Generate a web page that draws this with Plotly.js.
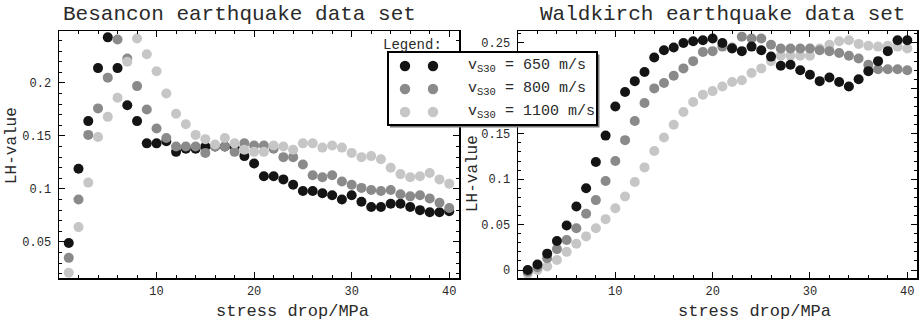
<!DOCTYPE html>
<html><head><meta charset="utf-8">
<script src="https://cdn.plot.ly/plotly-3.0.1.min.js"></script>
<style>html,body{margin:0;padding:0;background:#fff}</style>
</head><body>
<div id="chart" style="width:921px;height:323px"></div>
<script>
// ---- data ----
const stressDrop = [1,2,3,4,5,6,7,8,9,10,11,12,13,14,15,16,17,18,19,20,21,22,23,24,25,26,27,28,29,30,31,32,33,34,35,36,37,38,39,40];

const besancon650  = [0.049,0.119,0.164,0.214,0.243,0.214,0.179,0.164,0.143,0.143,0.145,0.135,0.138,0.138,0.140,0.140,0.140,0.139,0.131,0.124,0.112,0.112,0.109,0.104,0.098,0.098,0.096,0.094,0.090,0.094,0.088,0.083,0.083,0.086,0.086,0.083,0.080,0.078,0.078,0.079];
const besancon800  = [0.035,0.090,0.151,0.176,0.205,0.241,0.223,0.197,0.175,0.157,0.148,0.140,0.140,0.140,0.134,0.140,0.140,0.135,0.143,0.141,0.141,0.138,0.130,0.130,0.123,0.113,0.111,0.113,0.107,0.104,0.101,0.099,0.098,0.099,0.095,0.093,0.094,0.091,0.087,0.082];
const besancon1100 = [0.021,0.064,0.106,0.149,0.168,0.186,0.220,0.242,0.227,0.211,0.190,0.171,0.161,0.151,0.147,0.142,0.148,0.143,0.137,0.135,0.135,0.141,0.140,0.137,0.143,0.143,0.139,0.141,0.139,0.134,0.130,0.131,0.128,0.120,0.114,0.111,0.112,0.115,0.109,0.105];

const waldkirch650  = [0.000,0.006,0.018,0.032,0.049,0.070,0.090,0.119,0.148,0.180,0.196,0.208,0.218,0.234,0.242,0.245,0.250,0.252,0.253,0.255,0.250,0.244,0.241,0.246,0.242,0.235,0.225,0.226,0.220,0.215,0.208,0.212,0.207,0.202,0.210,0.219,0.230,0.241,0.253,0.253];
const waldkirch800  = [-0.002,0.003,0.013,0.023,0.033,0.046,0.062,0.077,0.098,0.120,0.143,0.164,0.184,0.200,0.206,0.214,0.222,0.230,0.240,0.241,0.246,0.245,0.257,0.255,0.255,0.248,0.244,0.244,0.244,0.244,0.242,0.241,0.239,0.236,0.233,0.226,0.221,0.221,0.221,0.220];
const waldkirch1100 = [-0.004,0.000,0.004,0.011,0.020,0.029,0.037,0.046,0.056,0.068,0.081,0.097,0.113,0.131,0.146,0.160,0.174,0.185,0.193,0.197,0.202,0.207,0.209,0.217,0.222,0.230,0.236,0.236,0.236,0.236,0.244,0.248,0.252,0.253,0.249,0.247,0.246,0.247,0.246,0.244];

const seriesNames = ["v<sub>S30</sub> = 650 m/s", "v<sub>S30</sub> = 800 m/s", "v<sub>S30</sub> = 1100 m/s"];
const xTickVals = [10,20,30,40];
const xTickText = ["10","20","30","40"];
const besYTickVals = [0.05,0.1,0.15,0.2];
const besYTickText = ["0.05","0.1","0.15","0.2"];
const walYTickVals = [0,0.05,0.1,0.15,0.2,0.25];
const walYTickText = ["0","0.05","0.1","0.15","","0.25"]; // 0.2 label is hidden behind the legend box
const plotTitles = ["Besancon earthquake data set", "Waldkirch earthquake data set"];
const xTitle = "stress drop/MPa";
const yTitle = "LH-value";

// ---- style ----
const W = 921, H = 323;
const FONT = "Liberation Mono, Courier New, monospace";
const TXT = "#2a2a2a";
const colors = ["#141414", "#8a8a8a", "#c6c6c6"];
const px = v => v / W;
const py = v => 1 - v / H;

function trace(y, ci, xa, ya) {
  return {x: stressDrop, y: y, type: "scatter", mode: "markers", xaxis: xa, yaxis: ya,
    showlegend: false, hoverinfo: "skip", cliponaxis: false,
    marker: {size: 10, color: colors[ci], line: {width: 0}}};
}
const data = [
  trace(besancon650, 0, "x", "y"),
  trace(besancon800, 1, "x", "y"),
  trace(besancon1100, 2, "x", "y"),
  trace(waldkirch1100, 2, "x2", "y2"),
  trace(waldkirch800, 1, "x2", "y2"),
  trace(waldkirch650, 0, "x2", "y2")
];

function xAxis(domain, anchor) {
  return {domain: domain, anchor: anchor, range: [0, 41], tickmode: "array",
    tickvals: xTickVals, ticktext: xTickText, ticks: "inside", ticklen: 6, tickwidth: 1,
    tickcolor: "#000", mirror: "allticks", showline: true, linecolor: "#000", linewidth: 1.5,
    showgrid: false, zeroline: false, ticklabelstandoff: 1,
    tickfont: {family: FONT, size: 12, color: TXT},
    minor: {tickmode: "linear", tick0: 0, dtick: 2, ticks: "inside", ticklen: 3, tickwidth: 1, tickcolor: "#000", showgrid: false},
    fixedrange: true};
}
function yAxis(domain, anchor, range, tv, tt) {
  return {domain: domain, anchor: anchor, range: range, tickmode: "array",
    tickvals: tv, ticktext: tt, ticks: "inside", ticklen: 6, tickwidth: 1,
    tickcolor: "#000", mirror: "allticks", showline: true, linecolor: "#000", linewidth: 1.5,
    showgrid: false, zeroline: false, ticklabelstandoff: 4,
    tickfont: {family: FONT, size: 12, color: TXT},
    minor: {tickmode: "linear", tick0: 0, dtick: 0.01, ticks: "inside", ticklen: 3, tickwidth: 1, tickcolor: "#000", showgrid: false},
    fixedrange: true};
}
const yDom = [py(278), py(31)];

const annotations = [
  {text: plotTitles[0], x: px(239), y: py(15), xref: "paper", yref: "paper", xanchor: "center", yanchor: "middle", showarrow: false, font: {family: FONT, size: 21, color: TXT}},
  {text: plotTitles[1], x: px(722), y: py(15), xref: "paper", yref: "paper", xanchor: "center", yanchor: "middle", showarrow: false, font: {family: FONT, size: 21, color: TXT}},
  {text: xTitle, x: px(292), y: py(311), xref: "paper", yref: "paper", xanchor: "center", yanchor: "middle", showarrow: false, font: {family: FONT, size: 17, color: TXT}},
  {text: xTitle, x: px(754), y: py(311), xref: "paper", yref: "paper", xanchor: "center", yanchor: "middle", showarrow: false, font: {family: FONT, size: 17, color: TXT}},
  {text: yTitle, x: px(12), y: py(146), xref: "paper", yref: "paper", xanchor: "center", yanchor: "middle", textangle: -90, showarrow: false, font: {family: FONT, size: 16, color: TXT}},
  {text: yTitle, x: px(473), y: py(174), xref: "paper", yref: "paper", xanchor: "center", yanchor: "middle", textangle: -90, showarrow: false, font: {family: FONT, size: 16, color: TXT}},
  {text: "Legend:", x: px(381), y: py(45), xref: "paper", yref: "paper", xanchor: "left", yanchor: "middle", showarrow: false, font: {family: FONT, size: 14, color: TXT}}
];
const rowsY = [66, 89, 112];
const shapes = [
  {type: "rect", xref: "paper", yref: "paper", x0: px(390), x1: px(599.5), y0: py(54.5), y1: py(127.5), fillcolor: "#777", line: {width: 0}, layer: "above"},
  {type: "rect", xref: "paper", yref: "paper", x0: px(388), x1: px(597), y0: py(52), y1: py(125), fillcolor: "#fff", line: {width: 2, color: "#000"}, layer: "above"}
];
rowsY.forEach((ry, i) => {
  [405, 433].forEach(cx => {
    shapes.push({type: "circle", xref: "paper", yref: "paper", x0: px(cx - 5.2), x1: px(cx + 5.2), y0: py(ry - 5.2), y1: py(ry + 5.2), fillcolor: colors[i], line: {width: 0}, layer: "above"});
  });
  annotations.push({text: seriesNames[i], x: px(466), y: py(ry), xref: "paper", yref: "paper", xanchor: "left", yanchor: "middle", showarrow: false, font: {family: FONT, size: 15, color: TXT}});
});

const layout = {
  width: W, height: H, margin: {l: 0, r: 0, t: 0, b: 0},
  paper_bgcolor: "#fff", plot_bgcolor: "#fff", showlegend: false,
  xaxis: xAxis([px(59), px(459)], "y"),
  yaxis: yAxis(yDom, "x", [0.016, 0.249], besYTickVals, besYTickText),
  xaxis2: xAxis([px(518), px(917)], "y2"),
  yaxis2: yAxis(yDom, "x2", [-0.0088, 0.2632], walYTickVals, walYTickText),
  annotations: annotations,
  shapes: shapes
};
Plotly.newPlot("chart", data, layout, {staticPlot: true, displayModeBar: false});
</script>
</body></html>
